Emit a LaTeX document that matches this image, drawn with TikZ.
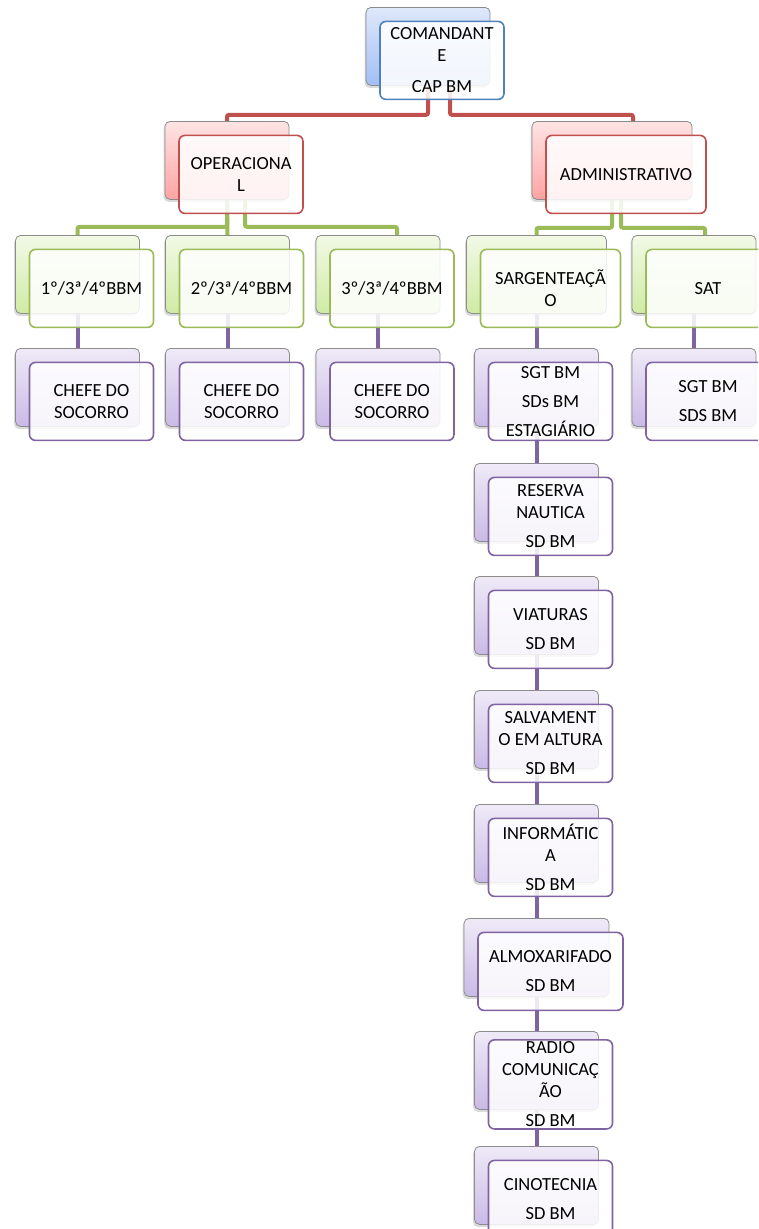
\documentclass[tikz,border=0pt]{standalone}
\usepackage{fontspec}
\setmainfont{Carlito}
\usetikzlibrary{shadows,backgrounds}

\definecolor{blueTop}{HTML}{DFE8FB}
\definecolor{blueBot}{HTML}{A2BEF4}
\definecolor{blueLine}{HTML}{4F81BD}
\definecolor{redTop}{HTML}{FFE4E4}
\definecolor{redBot}{HTML}{FFA3A3}
\definecolor{redLine}{HTML}{C0504D}
\definecolor{greenTop}{HTML}{F2F9E6}
\definecolor{greenBot}{HTML}{CFEBA4}
\definecolor{greenLine}{HTML}{9BBB59}
\definecolor{purpleTop}{HTML}{EFEAF7}
\definecolor{purpleBot}{HTML}{C9BAE6}
\definecolor{purpleLine}{HTML}{8064A2}

\tikzset{
  backbox/.style={draw=black!45, line width=0.8pt, rounded corners=5pt,
    top color=#1Top, bottom color=#1Bot, minimum height=78pt,
    drop shadow={shadow xshift=-1.5pt, shadow yshift=-2.5pt, opacity=0.3}},
  frontbox/.style={draw=#1Line, line width=1.6pt, rounded corners=6pt,
    fill=white, fill opacity=0.86, text opacity=1, minimum height=78pt,
    align=center, inner sep=2pt, font=\fontsize{18.5pt}{22pt}\selectfont},
  link/.style={draw=#1Line, line width=4pt, rounded corners=2pt},
}

% name, colour, x, top, width, text
\newcommand{\orgbox}[6]{%
  \node[backbox=#2, minimum width=#5pt, anchor=north] (#1) at (#3,#4) {};
  \node[frontbox=#2, minimum width=#5pt] (#1T) at ([shift={(14pt,-14pt)}]#1.center) {#6};
}

\begin{document}
\begin{tikzpicture}[x=1pt,y=-1pt]
  \useasboundingbox (0,0) rectangle (758,1229);
  \clip (0,0) rectangle (758,1229);

  \orgbox{cmd}{blue}{428}{7}{124}{COMANDANT\\E\\[9pt]CAP BM}

  \orgbox{op}{red}{227}{121}{124}{OPERACIONA\\L}
  \orgbox{adm}{red}{612}{121}{160}{ADMINISTRATIVO}

  \orgbox{b1}{green}{77.5}{235}{124}{1º/3ª/4ºBBM}
  \orgbox{b2}{green}{227.5}{235}{124}{2º/3ª/4ºBBM}
  \orgbox{b3}{green}{378}{235}{124}{3º/3ª/4ºBBM}
  \orgbox{sgt}{green}{536.5}{235}{140}{SARGENTEAÇÃ\\O}
  \orgbox{sat}{green}{694}{235}{124}{SAT}

  \orgbox{ch1}{purple}{77.5}{348}{124}{CHEFE DO\\SOCORRO}
  \orgbox{ch2}{purple}{227.5}{348}{124}{CHEFE DO\\SOCORRO}
  \orgbox{ch3}{purple}{378}{348}{124}{CHEFE DO\\SOCORRO}
  \orgbox{satc}{purple}{694}{348}{124}{SGT BM\\[7pt]SDS BM}

  % coluna da sargenteacao
  \orgbox{r1}{purple}{536.5}{348}{124}{SGT BM\\[7pt]SDs BM\\[7pt]ESTAGIÁRIO}
  \orgbox{r2}{purple}{536.5}{463}{124}{RESERVA\\NAUTICA\\[7pt]SD BM}
  \orgbox{r3}{purple}{536.5}{576}{124}{VIATURAS\\[7pt]SD BM}
  \orgbox{r4}{purple}{536.5}{690}{124}{SALVAMENT\\O EM ALTURA\\[7pt]SD BM}
  \orgbox{r5}{purple}{536.5}{804}{124}{INFORMÁTIC\\A\\[7pt]SD BM}
  \orgbox{r6}{purple}{536.5}{918}{145}{ALMOXARIFADO\\[7pt]SD BM}
  \orgbox{r7}{purple}{536.5}{1031}{124}{RADIO\\COMUNICAÇ\\ÃO\\[7pt]SD BM}
  \orgbox{r8}{purple}{536.5}{1146}{124}{CINOTECNIA\\[7pt]SD BM}

  \begin{scope}[on background layer]
    \draw[link=red] (cmd.south) -- +(0,29) -| (op.north);
    \draw[link=red] ([xshift=22pt]cmd.south) -- +(0,29) -| ([xshift=21pt]adm.north);

    \draw[link=green] (op.south) -- +(0,27) -| (b1.north);
    \draw[link=green] (op.south) -- (b2.north);
    \draw[link=green] ([xshift=18pt]op.south) -- +(0,27) -| ([xshift=19pt]b3.north);
    \draw[link=green] (adm.south) -- +(0,28) -| (sgt.north);
    \draw[link=green] ([xshift=9pt]adm.south) -- +(0,28) -| ([xshift=11pt]sat.north);

    \foreach \a/\b in {b1/ch1,b2/ch2,b3/ch3,sat/satc,sgt/r1,r1/r2,r2/r3,r3/r4,r4/r5,r5/r6,r6/r7,r7/r8}
      \draw[link=purple] (\a.south) -- (\b.north);
  \end{scope}
\end{tikzpicture}
\end{document}
